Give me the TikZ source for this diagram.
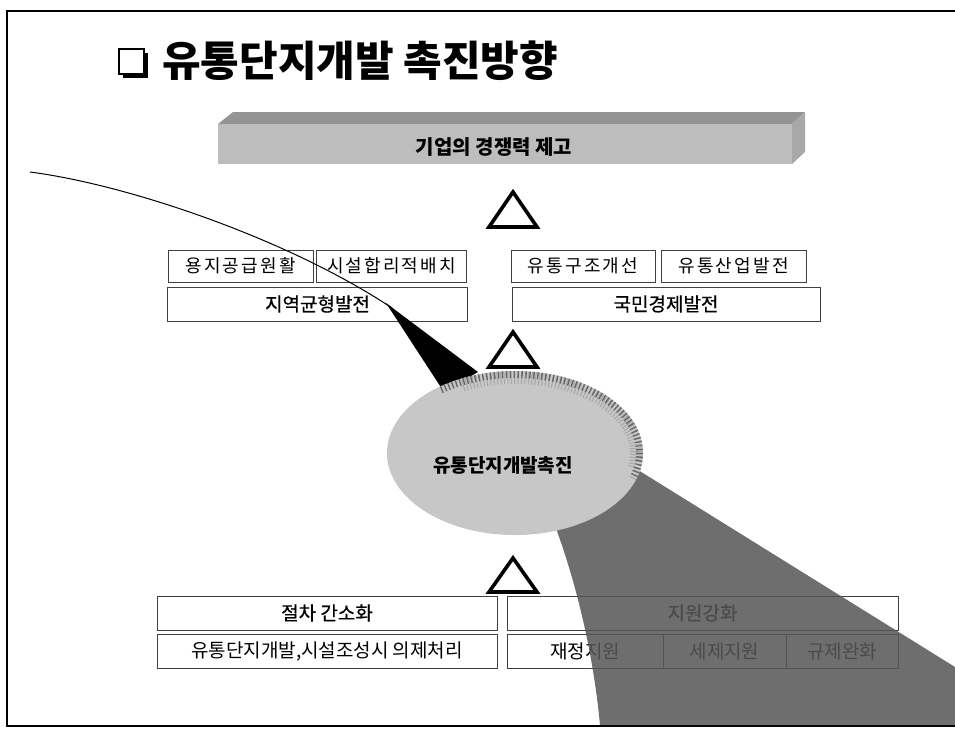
\documentclass[tikz,border=0pt]{standalone}
\usepackage{fontspec}
\newfontfamily\kr{Noto Sans CJK KR}
\newfontfamily\krm[FakeBold=0.6]{Noto Sans CJK KR}
\newfontfamily\krs[LetterSpace=12]{Noto Sans CJK KR}
\usetikzlibrary{shapes.geometric}
\begin{document}
\begin{tikzpicture}[x=1pt,y=-1pt,
  box/.style={draw=black!75, line width=0.6pt, fill=white, inner sep=0pt},
  tri/.style={draw=black, line width=3.6pt, fill=white, line join=miter},
  txt/.style={font=\krs\fontsize{18}{18}\selectfont, inner sep=0pt},
  txtm/.style={font=\krm\fontsize{19}{19}\selectfont, inner sep=0pt},
  txtb/.style={font=\kr\bfseries\fontsize{19}{19}\selectfont, inner sep=0pt}]
\useasboundingbox (0,0) rectangle (955,731);
\fill[white] (0,0) rectangle (955,731);
% frame
\draw[line width=2pt] (955,11) -- (7,11) -- (7,726) -- (955,726);
% title
\fill[black] (123,53) rectangle (148,78);
\draw[line width=1.8pt, fill=white] (119,49) rectangle (144,74);
\node[anchor=west, inner sep=0pt, font=\kr\bfseries\fontsize{42}{42}\selectfont] (title) at (162,61) {유통단지개발 촉진방향};
% top bar
\fill[black!42] (233,112) -- (805,112) -- (792,124) -- (218,124) -- cycle;
\fill[black!26] (218,124) rectangle (792,164);
\fill[black!34] (792,124) -- (805,112) -- (805,152) -- (792,164) -- cycle;
\node[font=\kr\bfseries\fontsize{20}{20}\selectfont, inner sep=0pt] (goal) at (494,147) {기업의 경쟁력 제고};
% triangle 1
\draw[tri] (513,192) -- (537,227) -- (489,227) -- cycle;
% upper boxes
\node[box, minimum width=145pt, minimum height=32pt] (a1) at (240.5,266) {};
\node[txt] at (a1) {용지공급원활};
\node[box, minimum width=150pt, minimum height=32pt] (a2) at (391.5,266) {};
\node[txt] at (a2) {시설합리적배치};
\node[box, minimum width=144pt, minimum height=32pt] (b1) at (583,266) {};
\node[txt] at (b1) {유통구조개선};
\node[box, minimum width=145pt, minimum height=32pt] (b2) at (733.5,266) {};
\node[txt] at (b2) {유통산업발전};
\node[box, minimum width=300pt, minimum height=34pt] (a3) at (317.5,304) {};
\node[txtm] at (a3) {지역균형발전};
\node[box, minimum width=308pt, minimum height=34pt] (b3) at (666,304) {};
\node[txtm] at (b3) {국민경제발전};
% swoosh line and wedge
\draw[line width=1pt] (30,172) .. controls (130,185) and (290,240) .. (392,308);
\fill[black] (386,303) -- (478,372) -- (444,392) -- cycle;
% triangle 2
\draw[tri] (513,332) -- (537,367) -- (489,367) -- cycle;
% triangle 3
\draw[tri] (513,558) -- (537,592) -- (489,592) -- cycle;
% bottom boxes
\node[box, minimum width=340pt, minimum height=34pt] (c1) at (327,613) {};
\node[txtm] at (c1) {절차 간소화};
\node[box, minimum width=340pt, minimum height=34pt] (c2) at (327,651) {};
\node[txt, font=\kr\fontsize{19}{19}\selectfont] at (c2) {유통단지개발,시설조성시 의제처리};
\node[box, minimum width=391pt, minimum height=34pt] (d1) at (702.5,613) {};
\node[txtm] at (d1) {지원강화};
\node[box, minimum width=156pt, minimum height=34pt] (d2) at (585,651) {};
\node[txt, font=\kr\fontsize{19}{19}\selectfont] at (d2) {재정지원};
\node[box, minimum width=123pt, minimum height=34pt] (d3) at (724.5,651) {};
\node[txt, font=\kr\fontsize{19}{19}\selectfont] at (d3) {세제지원};
\node[box, minimum width=112pt, minimum height=34pt] (d4) at (842,651) {};
\node[txt, font=\kr\fontsize{19}{19}\selectfont] at (d4) {규제완화};
% dark beam
\fill[black!66, fill opacity=0.86] (545,500) .. controls (570,560) and (592,640) .. (600,725)
  -- (955,725) -- (955,667) -- (630,465) -- cycle;
% disc
\node[ellipse, fill=black!22, minimum width=256pt, minimum height=164pt, inner sep=0pt] (disc) at (515,453) {};
\begin{scope}
  \clip (515,453) ellipse [x radius=128, y radius=82];
  \draw[black!35, line width=26pt, dash pattern=on 1pt off 2.6pt]
    (515,453) ++(245:128 and 82) arc[start angle=245, end angle=372, x radius=128, y radius=82];
  \draw[black!60, line width=14pt, dash pattern=on 1.4pt off 2.6pt]
    (515,453) ++(234:128 and 82) arc[start angle=234, end angle=379, x radius=128, y radius=82];
\end{scope}
\node[txtb] (disctxt) at (503,465) {유통단지개발촉진};
\end{tikzpicture}
\end{document}
